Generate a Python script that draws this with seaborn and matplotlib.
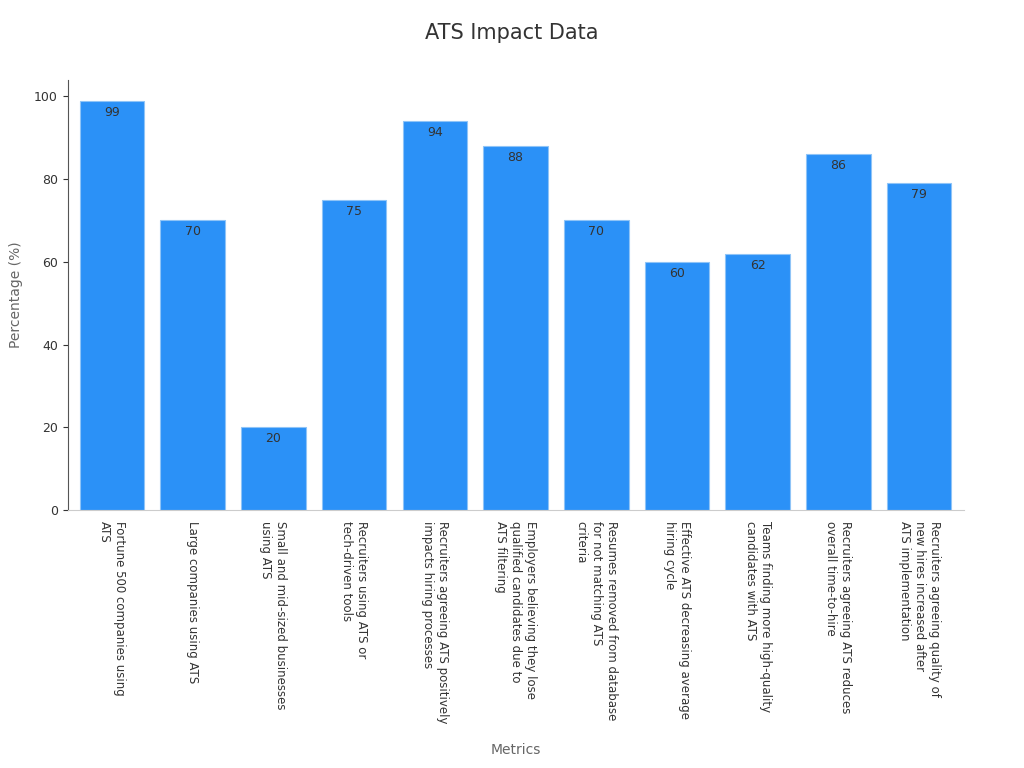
import matplotlib
matplotlib.use("Agg")
import matplotlib.pyplot as plt
import pandas as pd
import seaborn as sns

CATEGORIES = [
    "Fortune 500 companies using\nATS",
    "Large companies using ATS",
    "Small and mid-sized businesses\nusing ATS",
    "Recruiters using ATS or\ntech-driven tools",
    "Recruiters agreeing ATS positively\nimpacts hiring processes",
    "Employers believing they lose\nqualified candidates due to\nATS filtering",
    "Resumes removed from database\nfor not matching ATS\ncriteria",
    "Effective ATS decreasing average\nhiring cycle",
    "Teams finding more high-quality\ncandidates with ATS",
    "Recruiters agreeing ATS reduces\noverall time-to-hire",
    "Recruiters agreeing quality of\nnew hires increased after\nATS implementation",
]
VALUES = [99, 70, 20, 75, 94, 88, 70, 60, 62, 86, 79]

df = pd.DataFrame({"Metrics": CATEGORIES, "Percentage": VALUES})

fig = plt.figure(figsize=(10.24, 7.68), dpi=100)
ax = fig.add_axes([0.066, 0.336, 0.875, 0.56])

sns.barplot(data=df, x="Metrics", y="Percentage", color="#2b91f7",
            saturation=1, width=0.8, edgecolor="#8fc4f7", linewidth=0.8, ax=ax)

for i, v in enumerate(VALUES):
    ax.text(i, v - 1.2, f"{v}", ha="center", va="top", fontsize=9, color="#333333")

ax.set_ylim(0, 104)
ax.set_yticks([0, 20, 40, 60, 80, 100])
ax.tick_params(axis="y", labelsize=9, colors="#333333")
ax.tick_params(axis="x", labelsize=8.5, colors="#333333", length=0, pad=8)
ax.set_xticks(range(len(CATEGORIES)))
ax.set_xticklabels(CATEGORIES, rotation=-90, ha="center", va="top",
                   fontsize=8.5, multialignment="left")
ax.set_xlabel("Metrics", fontsize=10, color="#666666", labelpad=14)
ax.set_ylabel("Percentage (%)", fontsize=10, color="#666666", labelpad=8)
ax.spines["top"].set_visible(False)
ax.spines["right"].set_visible(False)
ax.spines["left"].set_color("#555555")
ax.spines["bottom"].set_color("#cccccc")
ax.set_xlim(-0.55, 10.55)

fig.suptitle("ATS Impact Data", fontsize=15, color="#333333", y=0.97)
fig.savefig("out.png", dpi=100)
